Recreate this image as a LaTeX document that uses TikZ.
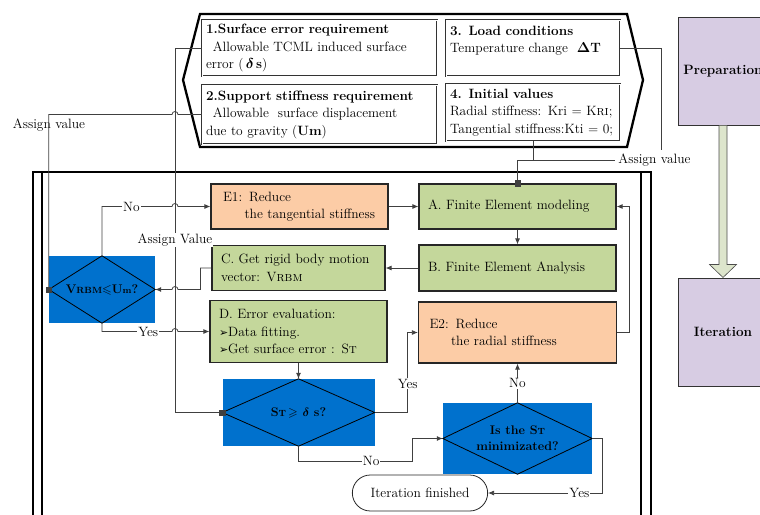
\documentclass[tikz,border=0pt]{standalone}
\usepackage{amsmath}
\usepackage{amssymb}
\usepackage{fontspec}
\newfontfamily\dingfont{DejaVu Sans}
\usetikzlibrary{positioning,arrows.meta,calc,shapes.misc}

\definecolor{femgreen}{HTML}{C4D79B}
\definecolor{cutorange}{HTML}{FCCCA6}
\definecolor{checkblue}{HTML}{0071CD}
\definecolor{phaselilac}{HTML}{D7CCE3}
\definecolor{arrowgreen}{HTML}{DDE5CC}

\newcommand{\arrowbul}{{\dingfont\fontsize{11}{12}\selectfont ➢}}
\newcommand{\lowcap}[1]{{\fontsize{9}{10}\selectfont #1}}

\begin{document}
\begin{tikzpicture}[x=1pt,y=-1pt,on grid,
    font=\fontsize{13.5}{17.5}\selectfont,
    >={Latex[length=6pt,width=5pt]},
    flow/.style={draw=black!75,line width=0.8pt},
    sq/.style={flow,-{Square[length=6pt,width=6pt]},shorten >=-3pt},
    stepgreen/.style={draw=black!85,fill=femgreen,line width=1.2pt,align=left,inner xsep=9pt,inner ysep=0pt},
    steporange/.style={stepgreen,fill=cutorange},
    check/.style={fill=checkblue,inner sep=0pt,align=center,font=\fontsize{12.5}{16}\selectfont\bfseries},
    given/.style={draw=black!80,double=white,double distance=0.8pt,line width=0.5pt,align=left,inner xsep=4pt,inner ysep=0pt},
    phase/.style={draw=black!80,fill=phaselilac,line width=1pt,minimum width=90pt,minimum height=108pt,font=\fontsize{13.5}{17}\selectfont\bfseries},
    lbl/.style={fill=white,inner sep=1pt}]

\useasboundingbox (0,0) rectangle (760,514);
\clip (0,0) rectangle (760,514);

% outer frame of the iteration loop
\draw[line width=1.8pt] (33,530) -- (33,172) -- (651,172) -- (651,530);
\draw[line width=1.8pt] (42,172) -- (42,530) (641,172) -- (641,530);

% input block
\draw[line width=2.3pt,line join=miter] (200,14) -- (627,14) -- (643,80) -- (627,147) -- (200,147) -- (183,80) -- cycle;
\node[given,text width=227pt,minimum height=56pt] (req1) at (319.5,48)
  {\textbf{1.Surface error requirement}\\\hspace*{0.5em}Allowable TCML induced surface\\error (\,$\boldsymbol{\delta}$\,\textbf{s})};
\node[given,text width=227pt,minimum height=59pt] (req2) at (319.5,114.5)
  {\textbf{2.Support stiffness requirement}\\\hspace*{0.5em}Allowable\ \ surface displacement\\due to gravity (\textbf{Um})};
\node[given,text width=166pt,minimum height=56pt] (load) at (533,48)
  {\textbf{3. Load conditions}\\Temperature change\ \ $\boldsymbol{\Delta}$\textbf{T}\\\mbox{}};
\node[given,text width=166pt,minimum height=57pt] (init) at (533,112.5)
  {\textbf{4. Initial values}\\Radial stiffness: Kri = K\textsc{ri};\\Tangential stiffness:Kti = 0;};

% steps
\node[stepgreen,text width=179pt,minimum height=45pt] (A) at (517.5,206.5) {A. Finite Element modeling};
\node[stepgreen,text width=179pt,minimum height=46pt] (B) [below=61.5pt of A] {B. Finite Element Analysis};
\node[steporange,text width=176pt,minimum height=61pt,inner xsep=11pt] (E2) [below=64.5pt of B] {E2: Reduce\\\hspace*{1.6em}the radial stiffness};
\node[steporange,text width=153pt,minimum height=45pt,inner xsep=12pt] (E1) [left=218pt of A] {E1: Reduce\\\hspace*{1.6em}the tangential stiffness};
\node[stepgreen,text width=155pt,minimum height=45pt] (C) [left=219pt of B] {C. Get rigid body motion\\vector: V\textsc{rbm}};
\node[stepgreen,text width=159pt,minimum height=62pt] (D) [below=63.5pt of C] {D. Error evaluation:\\\arrowbul Data fitting.\\\arrowbul Get surface error : S\textsc{t}};

% decisions
\node[check,minimum width=106pt,minimum height=67pt] (V) at (102,289.5) {V\lowcap{RBM}$\boldsymbol{\leqslant}$U\lowcap{m}?};
\node[check,minimum width=152pt,minimum height=67pt] (ST) at (298.5,412.5) {S\lowcap{T}\,$\boldsymbol{\geqslant}$ $\boldsymbol{\delta}$ s?};
\node[check,minimum width=149pt,minimum height=71pt] (Min) at (517.5,438.5) {Is the S\lowcap{T}\\minimizated?};
\foreach \d in {V,ST,Min}
  \draw[line width=0.8pt] (\d.west) -- (\d.north) -- (\d.east) -- (\d.south) -- cycle;
\node[draw=black!85,line width=0.8pt,rounded rectangle,minimum width=142pt,minimum height=36pt] (Fin) at (420,493) {Iteration finished};

% phases
\node[phase] (Prep) at (723,71) {Preparation};
\node[phase] (Iter) at (723,332) {Iteration};
\draw[draw=black!70,fill=arrowgreen,line width=0.6pt] ($(Prep.south)+(-4,0)$) -- ($(Iter.north)+(-4,-13)$)
  -- ($(Iter.north)+(-13.5,-13)$) -- (Iter.north) -- ($(Iter.north)+(13.5,-13)$)
  -- ($(Iter.north)+(4,-13)$) -- ($(Prep.south)+(4,0)$);

% labels for assigned values
\node (av1) at (49,125) {Assign value};
\node (av3) at (654.5,160) {Assign value};
\coordinate (bus) at (175,0);
\coordinate (nb) at (412,461);

% connectors
\draw[sq] (req1.west) -| (bus |- ST.west) -- (ST.west);
\draw[sq] (req2.west) -- ([xshift=3pt]bus |- req2.west) arc[start angle=0,end angle=180,radius=3pt] -| (V.west);
\draw[flow] (load.east) -| ([xshift=7pt]av3.north);
\draw[flow] (init.south) -- (init.south |- av3.west);
\draw[sq] (av3.west) -| (A.north);

\draw[flow,->] (E1) -- (A);
\draw[flow,->] (A) -- (B);
\draw[flow,->] (B.west) -- (B.west -| C.east);
\draw[flow,->] (C.west) -- ++(-11,0) |- ([xshift=3pt]bus |- V.east) arc[start angle=0,end angle=180,radius=3pt] -- (V.east);
\draw[flow,->] (V.north) |- node[lbl,pos=0.71]{No} ([xshift=-3pt]bus |- E1.west) arc[start angle=180,end angle=0,radius=3pt] -- (E1.west);
\draw[flow,->] (V.south) |- node[lbl,pos=0.83]{Yes} ([xshift=-3pt]bus |- D.west) arc[start angle=180,end angle=0,radius=3pt] -- (D.west);
\draw[flow,->] (D.south) -- (ST.north);
\draw[flow,->] (ST.east) -- ++(33,0) |- node[lbl,pos=0.18]{Yes} (E2.west);
\draw[flow,->] (ST.south) |- node[lbl,pos=0.82]{No} (nb) |- (Min.west);
\draw[flow,->] (Min) -- node[lbl]{No} (E2);
\draw[flow,->] (Min.east) -- ++(10,0) |- node[lbl,pos=0.6]{Yes} (Fin.east);
\draw[flow,->] (E2.east) -- ++(12,0) |- (A.east);

\node[lbl] (av2) at (175,240) {Assign Value};
\end{tikzpicture}
\end{document}
